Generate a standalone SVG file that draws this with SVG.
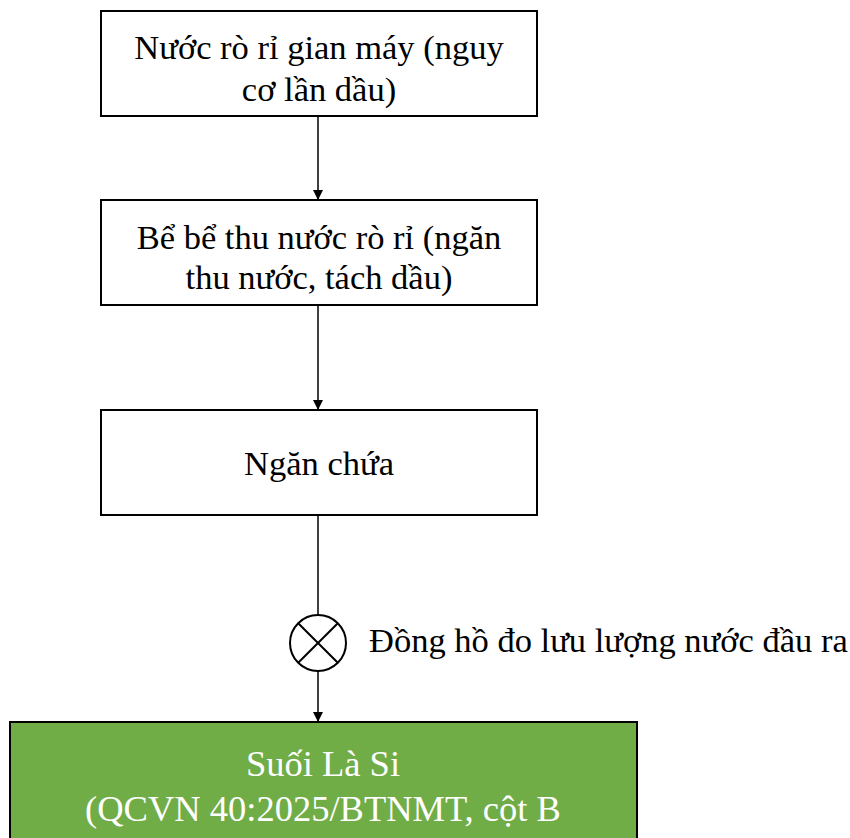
<svg xmlns="http://www.w3.org/2000/svg" width="850" height="838" viewBox="0 0 850 838">
<style>
.box{fill:#fff;stroke:#000;stroke-width:2}
.t{font-family:"Liberation Serif","Times New Roman",serif;font-size:34.5px;fill:#000;text-anchor:middle}
.w{fill:#fff;font-size:36.5px}
.c{stroke:#000;stroke-width:1.5;fill:none}
</style>
<defs>
<marker id="ah" viewBox="0 0 10 10" refX="10" refY="5" markerWidth="10" markerHeight="10" markerUnits="userSpaceOnUse" orient="auto">
<path d="M0,0 L10,5 L0,10 z" fill="#000"/>
</marker>
</defs>
<rect width="850" height="838" fill="#fff"/>
<g id="connectors">
<line class="c" x1="318" y1="116" x2="318" y2="200" marker-end="url(#ah)"/>
<line class="c" x1="318" y1="305" x2="318" y2="410" marker-end="url(#ah)"/>
<line class="c" x1="318" y1="515" x2="318" y2="615"/>
<line class="c" x1="318" y1="671" x2="318" y2="722" marker-end="url(#ah)"/>
</g>
<g id="n1">
<rect class="box" x="101" y="11" width="436" height="105"/>
<text class="t" x="319" y="59">Nước rò rỉ gian máy (nguy</text>
<text class="t" x="319" y="101">cơ lần dầu)</text>
</g>
<g id="n2">
<rect class="box" x="101" y="200" width="436" height="105"/>
<text class="t" x="319" y="249">Bể bể thu nước rò rỉ (ngăn</text>
<text class="t" x="319" y="289">thu nước, tách dầu)</text>
</g>
<g id="n3">
<rect class="box" x="101" y="410" width="436" height="105"/>
<text class="t" x="319" y="475">Ngăn chứa</text>
</g>
<g id="meter">
<circle cx="318" cy="643" r="28" fill="#fff" stroke="#000" stroke-width="2"/>
<line x1="298.2" y1="623.2" x2="337.8" y2="662.8" stroke="#000" stroke-width="2"/>
<line x1="337.8" y1="623.2" x2="298.2" y2="662.8" stroke="#000" stroke-width="2"/>
<text class="t" x="369" y="652" style="text-anchor:start;font-size:34.5px">Đồng hồ đo lưu lượng nước đầu ra</text>
</g>
<g id="n4">
<rect x="10" y="722" width="627" height="130" fill="#70AD47" stroke="#000" stroke-width="2"/>
<text class="t w" x="323" y="776">Suối Là Si</text>
<text class="t w" x="323" y="821">(QCVN 40:2025/BTNMT, cột B</text>
</g>
</svg>
